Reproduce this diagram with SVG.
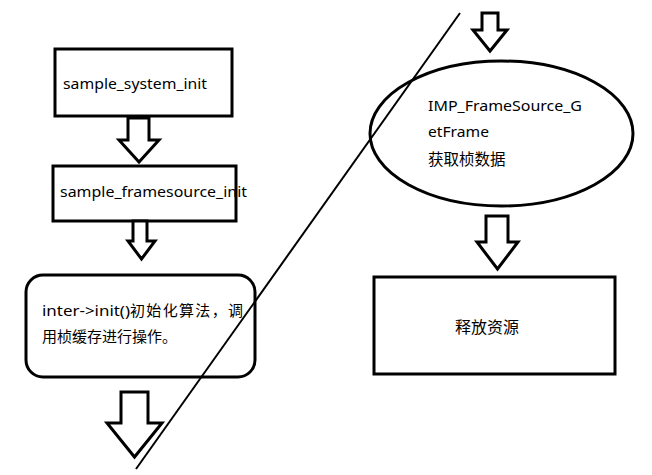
<svg xmlns="http://www.w3.org/2000/svg" width="652" height="475" viewBox="0 0 652 475">
<style>
.box{fill:#fff;stroke:#000;stroke-width:3}
.arr{fill:#fff;stroke:#000;stroke-width:3;stroke-linejoin:miter}
.t{font-family:"Noto Sans","Noto Sans CJK SC",sans-serif;font-size:15px;fill:#000}
.ln{stroke:#000;stroke-width:2;fill:none}
</style>
<rect width="652" height="475" fill="#fff"/>
<g id="n1">
<rect class="box" x="55" y="49" width="177" height="67"/>
<text class="t" x="63" y="89" textLength="144" lengthAdjust="spacingAndGlyphs">sample_system_init</text>
</g>
<g id="n2">
<rect class="box" x="53" y="166" width="183" height="55"/>
<text class="t" x="60" y="197" textLength="187" lengthAdjust="spacingAndGlyphs">sample_framesource_init</text>
</g>
<g id="n3">
<rect class="box" x="26" y="275" width="229" height="102" rx="17"/>
<text class="t" x="42" y="316"><tspan textLength="88" lengthAdjust="spacingAndGlyphs">inter-&gt;init()</tspan><tspan x="130" textLength="113" lengthAdjust="spacing">初始化算法，调</tspan></text>
<text class="t" x="42" y="342">用桢缓存进行操作。</text>
</g>
<g id="n4">
<ellipse class="box" cx="501.5" cy="133.5" rx="131.5" ry="72.5"/>
<text class="t" x="428" y="111" textLength="154" lengthAdjust="spacingAndGlyphs">IMP_FrameSource_G</text>
<text class="t" x="428" y="137" textLength="61" lengthAdjust="spacingAndGlyphs">etFrame</text>
<text class="t" x="428" y="165" style="font-size:15.5px">获取桢数据</text>
</g>
<g id="n5">
<rect class="box" x="374" y="277" width="241" height="97"/>
<text class="t" x="455" y="333" style="font-size:16px">释放资源</text>
</g>
<g id="connectors">
<polygon class="arr" points="128,118 149,118 149,140 159,140 139,162 119,140 128,140"/>
<polygon class="arr" points="133,221 147,221 147,241 155,241 141.5,259 128,241 133,241"/>
<polygon class="arr" points="121,392 148,392 148,423 162,423 134.5,457 107,423 121,423"/>
<polygon class="arr" points="482,13 498,13 498,30 507,30 490,51 473,30 482,30"/>
<polygon class="arr" points="486,216 508,216 508,242 518,242 497.5,269 477,242 486,242"/>
<line class="ln" x1="460" y1="13" x2="136" y2="469"/>
</g>
</svg>
